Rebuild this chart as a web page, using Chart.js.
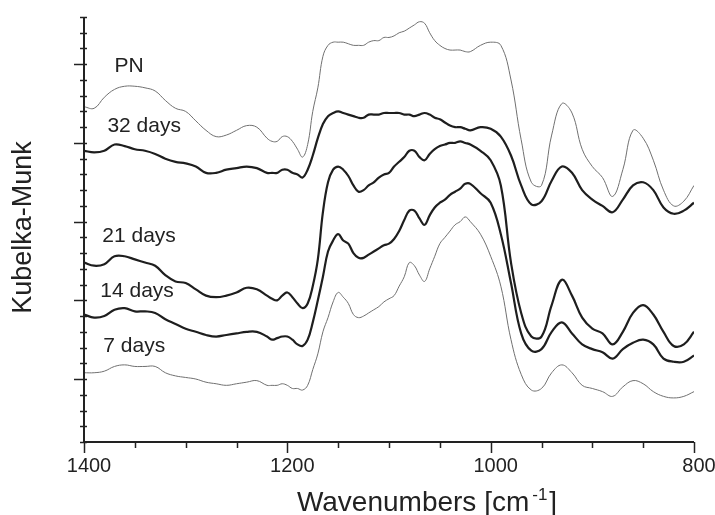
<!DOCTYPE html>
<html lang="en">
<head>
<meta charset="UTF-8">
<title>Kubelka-Munk spectra</title>
<script src="https://cdn.jsdelivr.net/npm/chart.js"></script>
<style>
    body {
        margin: 0;
        background: #fff;
    }
    #wrap {
        width: 715px;
        height: 515px;
    }
</style>
</head>
<body>
<div id="wrap"><canvas id="spectra"></canvas></div>
<script>
// wavenumber grid (cm-1), finer where the bands are sharp
const wavenumbers = [
    1400, 1390, 1380, 1370, 1360, 1350, 1340, 1330, 1320, 1310, 1300, 1290, 1280, 1270, 1260, 1250, 1240, 1230, 1220,
    1215, 1210, 1205, 1200, 1195, 1190, 1185, 1180, 1175, 1170, 1165, 1160, 1155, 1150, 1145, 1140, 1135, 1130, 1125,
    1120, 1115, 1110, 1105, 1100, 1095, 1090, 1085, 1080, 1075, 1070, 1065, 1060, 1055, 1050, 1045, 1040, 1035, 1030,
    1025, 1020,
    1010, 1000, 990, 980, 970, 960, 950, 940, 930, 920, 910, 900, 890, 880, 870, 860, 850, 840, 830, 820, 810, 800
];

// Kubelka-Munk values (offset curves, arbitrary units)
const kmPN = [
    2.23, 2.22, 2.29, 2.34, 2.36, 2.36, 2.35, 2.33, 2.27, 2.22, 2.20, 2.14, 2.08, 2.04, 2.05, 2.08, 2.11, 2.10, 2.03,
    2.01, 2.01, 2.04, 2.04, 2.01, 1.96, 1.91, 1.99, 2.20, 2.35, 2.55, 2.62, 2.64, 2.64, 2.64, 2.63, 2.62, 2.62, 2.62,
    2.64, 2.65, 2.65, 2.67, 2.67, 2.68, 2.70, 2.71, 2.73, 2.75, 2.77, 2.76, 2.70, 2.65, 2.62, 2.60, 2.59, 2.59, 2.59,
    2.58, 2.58,
    2.62, 2.64, 2.62, 2.40, 2.02, 1.75, 1.73, 2.05, 2.25, 2.19, 1.96, 1.85, 1.78, 1.66, 1.83, 2.08, 2.03, 1.89, 1.70, 1.60, 1.63, 1.73
];
const km32 = [
    1.95, 1.94, 1.95, 1.99, 1.98, 1.96, 1.95, 1.93, 1.90, 1.88, 1.87, 1.85, 1.81, 1.81, 1.83, 1.84, 1.85, 1.84, 1.81,
    1.81, 1.81, 1.83, 1.83, 1.81, 1.80, 1.78, 1.83, 1.92, 2.03, 2.12, 2.17, 2.19, 2.20, 2.19, 2.18, 2.17, 2.16, 2.16,
    2.18, 2.18, 2.18, 2.19, 2.19, 2.19, 2.19, 2.18, 2.18, 2.17, 2.18, 2.19, 2.18, 2.16, 2.15, 2.13, 2.11, 2.10, 2.10,
    2.09, 2.08,
    2.10, 2.09, 2.04, 1.92, 1.73, 1.61, 1.63, 1.76, 1.85, 1.81, 1.70, 1.64, 1.60, 1.56, 1.64, 1.73, 1.75, 1.70, 1.59, 1.55, 1.57, 1.62
];
const km21 = [
    1.24, 1.22, 1.23, 1.28, 1.28, 1.26, 1.24, 1.22, 1.16, 1.12, 1.11, 1.07, 1.03, 1.02, 1.03, 1.05, 1.08, 1.07, 1.03,
    1.01, 1.00, 1.03, 1.05, 1.02, 0.98, 0.95, 0.98, 1.09, 1.26, 1.56, 1.75, 1.83, 1.85, 1.83, 1.79, 1.73, 1.69, 1.70,
    1.73, 1.75, 1.78, 1.80, 1.81, 1.85, 1.88, 1.91, 1.95, 1.95, 1.91, 1.89, 1.93, 1.96, 1.98, 1.99, 2.00, 2.00, 2.01,
    2.00, 1.99,
    1.95, 1.89, 1.73, 1.24, 0.92, 0.77, 0.77, 0.97, 1.13, 1.03, 0.89, 0.82, 0.79, 0.72, 0.80, 0.92, 0.97, 0.91, 0.80, 0.71, 0.72, 0.80
];
const km14 = [
    0.91, 0.89, 0.90, 0.94, 0.95, 0.93, 0.93, 0.92, 0.88, 0.85, 0.82, 0.80, 0.78, 0.77, 0.78, 0.79, 0.80, 0.80, 0.77,
    0.75, 0.76, 0.77, 0.77, 0.75, 0.72, 0.71, 0.75, 0.86, 1.00, 1.15, 1.31, 1.38, 1.42, 1.38, 1.36, 1.30, 1.27, 1.27,
    1.29, 1.31, 1.33, 1.35, 1.36, 1.39, 1.44, 1.51, 1.57, 1.57, 1.52, 1.48, 1.54, 1.59, 1.62, 1.64, 1.67, 1.69, 1.71,
    1.74, 1.74,
    1.68, 1.62, 1.42, 1.11, 0.79, 0.68, 0.69, 0.80, 0.86, 0.79, 0.72, 0.69, 0.67, 0.63, 0.69, 0.73, 0.75, 0.72, 0.63, 0.61, 0.61, 0.65
];
const km7 = [
    0.54, 0.54, 0.55, 0.58, 0.59, 0.58, 0.58, 0.58, 0.54, 0.52, 0.51, 0.50, 0.48, 0.47, 0.46, 0.47, 0.48, 0.49, 0.46,
    0.46, 0.46, 0.47, 0.46, 0.44, 0.44, 0.43, 0.46, 0.56, 0.66, 0.80, 0.89, 0.99, 1.05, 1.02, 0.98, 0.91, 0.89, 0.90,
    0.92, 0.94, 0.96, 0.99, 1.01, 1.03, 1.09, 1.15, 1.24, 1.22, 1.16, 1.12, 1.20, 1.28, 1.36, 1.40, 1.44, 1.48, 1.50,
    1.53, 1.50,
    1.42, 1.28, 1.09, 0.75, 0.53, 0.43, 0.44, 0.54, 0.59, 0.54, 0.46, 0.44, 0.42, 0.39, 0.45, 0.49, 0.47, 0.42, 0.39, 0.38, 0.39, 0.42
];

const seriesNames = ['PN', '32 days', '21 days', '14 days', '7 days'];
const xTickLabels = [1400, 1200, 1000, 800];

// where each curve name sits, in data units [wavenumber, K-M]
const labelSpots = {
    'PN': [1370, 2.45],
    '32 days': [1377, 2.07],
    '21 days': [1382, 1.37],
    '14 days': [1384, 1.02],
    '7 days': [1381, 0.67]
};

const toPoints = (ys) => wavenumbers.map((w, i) => ({ x: w, y: ys[i] }));

const thin = { borderColor: '#707070', borderWidth: 1 };
const thick = { borderColor: '#1e1e1e', borderWidth: 2.2 };

const datasets = [
    { label: seriesNames[0], data: toPoints(kmPN), ...thin },
    { label: seriesNames[1], data: toPoints(km32), ...thick },
    { label: seriesNames[2], data: toPoints(km21), ...thick },
    { label: seriesNames[3], data: toPoints(km14), ...thick },
    { label: seriesNames[4], data: toPoints(km7), ...thin }
];

const ink = '#222';

// axes, ticks, tick labels and titles
const axesDecor = {
    id: 'axesDecor',
    afterDraw(chart) {
        const { ctx, chartArea: a, scales: { x, y } } = chart;
        ctx.save();
        ctx.strokeStyle = ink;
        ctx.fillStyle = ink;

        // axis lines
        ctx.lineWidth = 2;
        ctx.beginPath();
        ctx.moveTo(a.left, a.top);
        ctx.lineTo(a.left, a.bottom);
        ctx.lineTo(a.right, a.bottom);
        ctx.stroke();

        // x ticks every 50, long ones at labels
        ctx.lineWidth = 1.5;
        for (let w = x.min; w <= x.max; w += 50) {
            const px = Math.round(x.getPixelForValue(w)) + 0.5;
            const major = w % 200 === 0;
            ctx.beginPath();
            ctx.moveTo(px, a.bottom);
            ctx.lineTo(px, a.bottom + (major ? 11 : 6));
            ctx.stroke();
        }
        ctx.font = '20px "Liberation Sans", Arial, sans-serif';
        ctx.textAlign = 'center';
        ctx.textBaseline = 'alphabetic';
        xTickLabels.forEach(w => {
            ctx.fillText(String(w), x.getPixelForValue(w) + 5, a.bottom + 30);
        });

        // y ticks every 0.1, long ones every 0.5
        for (let k = 1; k <= 28; k++) {
            const v = k / 10;
            const py = Math.round(y.getPixelForValue(v)) + 0.5;
            const major = k % 5 === 0;
            ctx.beginPath();
            ctx.moveTo(a.left - (major ? 10 : 4), py);
            ctx.lineTo(a.left + 3, py);
            ctx.stroke();
        }

        // y title
        ctx.save();
        ctx.translate(a.left - 60, (a.top + a.bottom) / 2 - 2);
        ctx.rotate(-Math.PI / 2);
        ctx.font = '27px "Liberation Sans", Arial, sans-serif';
        ctx.textAlign = 'center';
        ctx.textBaseline = 'middle';
        ctx.fillText('Kubelka-Munk', 0, 0);
        ctx.restore();

        // x title with superscript
        const main = 'Wavenumbers [cm';
        ctx.font = '28px "Liberation Sans", Arial, sans-serif';
        ctx.textAlign = 'left';
        const w1 = ctx.measureText(main).width;
        ctx.font = '17px "Liberation Sans", Arial, sans-serif';
        const w2 = ctx.measureText('-1').width;
        ctx.font = '28px "Liberation Sans", Arial, sans-serif';
        const w3 = ctx.measureText(']').width;
        const total = w1 + 3 + w2 + 2 + w3;
        const x0 = (a.left + a.right) / 2 + 38 - total / 2;
        const base = a.bottom + 69;
        ctx.fillText(main, x0, base);
        ctx.font = '17px "Liberation Sans", Arial, sans-serif';
        ctx.fillText('-1', x0 + w1 + 3, base - 11);
        ctx.font = '28px "Liberation Sans", Arial, sans-serif';
        ctx.fillText(']', x0 + w1 + 3 + w2 + 2, base);

        ctx.restore();
    }
};

// curve names next to each trace
const curveLabels = {
    id: 'curveLabels',
    afterDatasetsDraw(chart) {
        const { ctx, scales: { x, y } } = chart;
        ctx.save();
        ctx.fillStyle = ink;
        ctx.font = '21px "Liberation Sans", Arial, sans-serif';
        ctx.textAlign = 'left';
        ctx.textBaseline = 'alphabetic';
        seriesNames.forEach(name => {
            const [w, v] = labelSpots[name];
            ctx.fillText(name, x.getPixelForValue(w), y.getPixelForValue(v));
        });
        ctx.restore();
    }
};

new Chart(document.getElementById('spectra'), {
    type: 'line',
    data: { datasets: datasets },
    options: {
        responsive: true,
        maintainAspectRatio: false,
        animation: false,
        layout: { padding: { left: 84, right: 21, top: 17, bottom: 73 } },
        elements: {
            point: { radius: 0 },
            line: { tension: 0.4, fill: false, capBezierPoints: true }
        },
        plugins: {
            legend: { display: false },
            tooltip: { enabled: false }
        },
        scales: {
            x: { type: 'linear', reverse: true, min: 800, max: 1400, display: false },
            y: { type: 'linear', min: 0.1, max: 2.8, display: false }
        }
    },
    plugins: [curveLabels, axesDecor]
});
</script>
</body>
</html>
